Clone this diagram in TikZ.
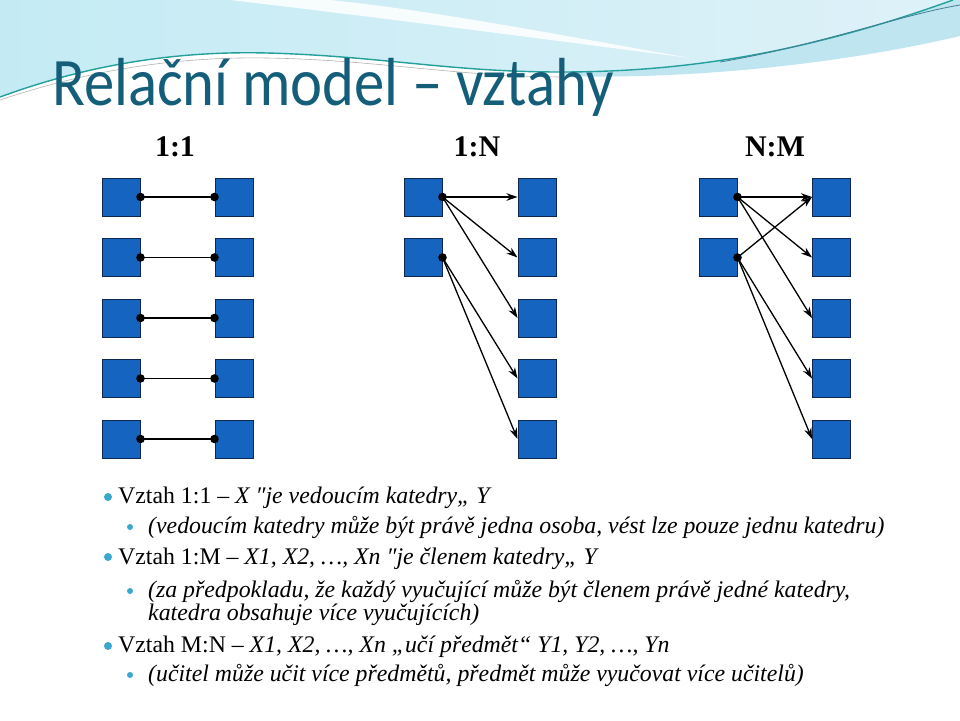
\documentclass[tikz,border=0pt]{standalone}
\usepackage{fontspec}
\setmainfont{Liberation Serif}
\newfontfamily\titlefont{Carlito}
\usetikzlibrary{arrows.meta}
\definecolor{boxblue}{RGB}{21,101,192}
\definecolor{boxedge}{RGB}{16,40,80}
\definecolor{titleteal}{RGB}{20,94,122}
\definecolor{bul}{RGB}{58,168,205}
\definecolor{swooshA}{RGB}{196,235,244}
\definecolor{swooshB}{RGB}{222,241,248}
\definecolor{swooshC}{RGB}{190,229,240}
\definecolor{swline}{RGB}{35,160,155}
\begin{document}
\begin{tikzpicture}[x=1pt,y=-1pt,
  ent/.style={draw=boxedge,line width=1pt,fill=boxblue,minimum size=38pt,inner sep=0pt},
  conn/.style={line width=1.3pt,draw=black},
  arr/.style={conn,-{Stealth[length=11pt,width=7.5pt]}},
  hdr/.style={font=\fontsize{30}{32}\selectfont\bfseries},
  body/.style={anchor=base west,inner sep=0pt,font=\fontsize{23.8}{26}\selectfont},
  bulA/.style={fill=bul},
]
\useasboundingbox (0,0) rectangle (960,720);
\fill[white] (0,0) rectangle (960,720);
% background swoosh
\fill[left color=swooshA,right color=swooshB]
  (0,0) -- (953,0) .. controls (800,55) and (680,72) .. (560,72)
  .. controls (450,72) and (380,56) .. (267,53)
  .. controls (150,50) and (60,75) .. (0,97) -- cycle;
\fill[swooshC] (560,72) .. controls (680,72) and (800,55) .. (953,0) -- (960,0) -- (960,36)
  .. controls (850,62) and (700,80) .. (560,76) -- cycle;
\fill[white,opacity=0.85] (230,0) .. controls (400,20) and (550,40) .. (690,58)
  .. controls (560,35) and (430,10) .. (330,0) -- cycle;
\draw[gray!60,line width=0.6pt] (0,100) .. controls (60,80) and (150,56) .. (267,58)
  .. controls (380,60) and (450,76) .. (560,77);
\draw[swline,line width=1.4pt] (0,97) .. controls (60,75) and (150,50) .. (267,53)
  .. controls (380,56) and (450,72) .. (560,72) .. controls (680,72) and (800,55) .. (953,0);
\draw[titleteal!80,line width=0.8pt] (720,62) .. controls (820,45) and (900,15) .. (960,5);
% title
\node[anchor=base west,inner sep=0pt,text=titleteal,font=\titlefont\fontsize{68}{74}\selectfont]
  (title) at (52,105) {\scalebox{0.892}[1]{Relační model – vztahy}};
% headings
\node[hdr] (h1) at (175,147) {1:1};
\node[hdr] (h2) at (477,147) {1:N};
\node[hdr] (h3) at (775,147) {N:M};
% 1:1
\foreach \i in {1,...,5}{
  \node[ent] (a\i) at (121,{197+60.5*(\i-1)}) {};
  \node[ent] (b\i) at (234,{197+60.5*(\i-1)}) {};
  \draw[conn] (a\i.east) -- (b\i.west);
  \fill (a\i.east) circle (4.3);
  \fill (b\i.west) circle (4.3);
}
% 1:N
\node[ent] (c1) at (423,197) {};
\node[ent] (c2) at (423,257.5) {};
\foreach \i in {1,...,5}{
  \node[ent] (d\i) at (537,{197+60.5*(\i-1)}) {};
}
\draw[arr] (c1.east) -- (d1.west);
\draw[arr] (c1.east) -- (d2.west);
\draw[arr] (c1.east) -- (d3.west);
\draw[arr] (c2.east) -- (d4.west);
\draw[arr] (c2.east) -- (d5.west);
\fill (c1.east) circle (4.3);
\fill (c2.east) circle (4.3);
% N:M
\node[ent] (e1) at (718,197) {};
\node[ent] (e2) at (718,257.5) {};
\foreach \i in {1,...,5}{
  \node[ent] (f\i) at (831.5,{197+60.5*(\i-1)}) {};
}
\draw[arr] (e1.east) -- (f1.west);
\draw[arr] (e1.east) -- (f2.west);
\draw[arr] (e1.east) -- (f3.west);
\draw[arr] (e2.east) -- (f1.west);
\draw[arr] (e2.east) -- (f4.west);
\draw[arr] (e2.east) -- (f5.west);
\fill (e1.east) circle (4.3);
\fill (e2.east) circle (4.3);
% text
\fill[bulA] (108,497) circle (4);
\node[body] (t1) at (118,503) {Vztah 1:1 – \textit{X ″je vedoucím katedry„ Y}};
\fill[bulA] (130,527) circle (3);
\node[body] (t2) at (148,533) {\textit{(vedoucím katedry může být právě jedna osoba, vést lze pouze jednu katedru)}};
\fill[bulA] (108,557) circle (4);
\node[body] (t3) at (118,564) {Vztah 1:M – \textit{X1, X2, …, Xn ″je členem katedry„ Y}};
\fill[bulA] (130,591) circle (3);
\node[body] (t4) at (148,597) {\textit{(za předpokladu, že každý vyučující může být členem právě jedné katedry,}};
\node[body] (t5) at (148,620) {\textit{katedra obsahuje více vyučujících)}};
\fill[bulA] (108,646) circle (4);
\node[body] (t6) at (118,652) {Vztah M:N – \textit{X1, X2, …, Xn „učí předmět“ Y1, Y2, …, Yn}};
\fill[bulA] (130,675) circle (3);
\node[body] (t7) at (148,681) {\textit{(učitel může učit více předmětů, předmět může vyučovat více učitelů)}};
\end{tikzpicture}
\end{document}
